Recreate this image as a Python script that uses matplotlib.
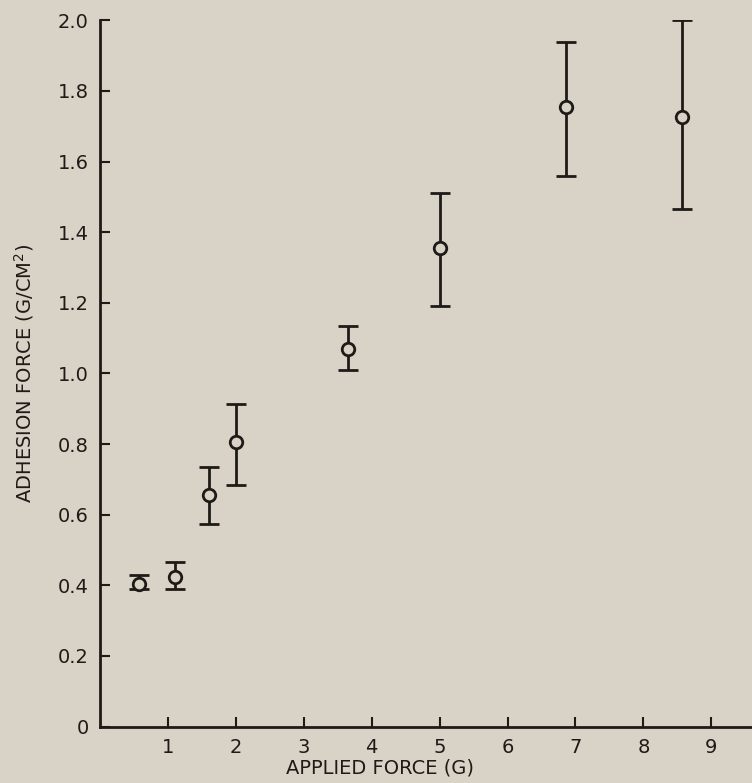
import matplotlib.pyplot as plt

# applied force (G) and adhesion force (G/CM^2) with error bar limits
applied = [0.57, 1.1, 1.6, 2.0, 3.65, 5.0, 6.86, 8.57]
adhesion = [0.405, 0.425, 0.655, 0.805, 1.07, 1.355, 1.755, 1.725]
err_low = [0.39, 0.39, 0.575, 0.685, 1.01, 1.19, 1.56, 1.465]
err_high = [0.43, 0.465, 0.735, 0.915, 1.135, 1.51, 1.94, 2.0]

yticks = [0, 0.2, 0.4, 0.6, 0.8, 1.0, 1.2, 1.4, 1.6, 1.8, 2.0]
ylabels = ['0', '0.2', '0.4', '0.6', '0.8', '1.0', '1.2', '1.4', '1.6', '1.8', '2.0']
xticks = [1, 2, 3, 4, 5, 6, 7, 8, 9]

bg = '#d9d2c6'
ink = '#1e1a17'

plt.rcParams['font.family'] = ['DejaVu Sans']
fig = plt.figure(figsize=(7.52, 7.83), dpi=100, facecolor=bg)
ax = fig.add_axes([0.133, 0.072, 0.867, 0.902], facecolor=bg)

lower = [a - l for a, l in zip(adhesion, err_low)]
upper = [h - a for a, h in zip(adhesion, err_high)]
ax.errorbar(applied, adhesion, yerr=[lower, upper], fmt='o', ms=9,
            mfc=bg, mec=ink, mew=2, ecolor=ink, elinewidth=2,
            capsize=7, capthick=2)

ax.set_xlim(0, 9.6)
ax.set_ylim(0, 2.0)
ax.set_xticks(xticks)
ax.set_yticks(yticks)
ax.set_yticklabels(ylabels)
ax.tick_params(direction='in', length=7, width=1.5, colors=ink,
               labelsize=14, pad=8)
for s in ['top', 'right']:
    ax.spines[s].set_visible(False)
for s in ['left', 'bottom']:
    ax.spines[s].set_linewidth(2)
    ax.spines[s].set_color(ink)

ax.set_ylabel('ADHESION FORCE (G/CM$^2$)', fontsize=14, color=ink, labelpad=16)
ax.set_xlabel('APPLIED FORCE (G)', fontsize=14, color=ink)
ax.xaxis.set_label_coords(0.43, -0.045)

fig.savefig('out.png', dpi=100, facecolor=bg)
